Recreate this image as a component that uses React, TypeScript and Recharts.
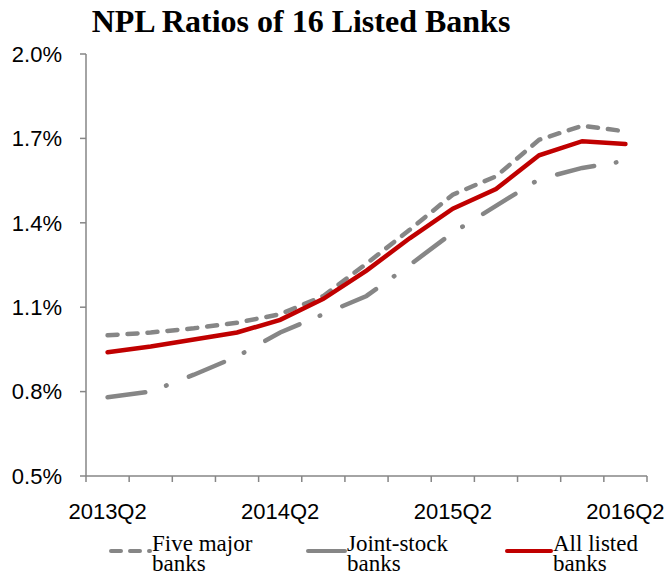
import { Legend, Line, LineChart, XAxis, YAxis } from 'recharts';

const quarters = [
  '2013Q2', '2013Q3', '2013Q4', '2014Q1', '2014Q2', '2014Q3', '2014Q4',
  '2015Q1', '2015Q2', '2015Q3', '2015Q4', '2016Q1', '2016Q2',
];

// NPL ratio, %
const fiveMajor = [1.0, 1.01, 1.025, 1.045, 1.075, 1.14, 1.255, 1.375, 1.5, 1.565, 1.695, 1.745, 1.725];
const jointStock = [0.78, 0.8, 0.86, 0.925, 1.01, 1.075, 1.14, 1.25, 1.365, 1.46, 1.555, 1.595, 1.62];
const allListed = [0.94, 0.96, 0.985, 1.01, 1.055, 1.13, 1.23, 1.345, 1.45, 1.52, 1.64, 1.69, 1.68];

const yTicks = [0.5, 0.8, 1.1, 1.4, 1.7, 2.0];
const labelEvery = 4;

const data = quarters.map((q, i) => ({
  idx: i,
  quarter: q,
  fiveMajor: fiveMajor[i],
  jointStock: jointStock[i],
  allListed: allListed[i],
}));

// tick marks sit on category boundaries, labels on category centres
const xTicks: number[] = [];
for (let i = 0; i <= quarters.length * 2; i++) xTicks.push(i / 2 - 0.5);

const GRAY = '#868686';
const RED = '#C00000';
const SANS = '"Liberation Sans", Arial, sans-serif';
const SERIF = '"Liberation Serif", "Times New Roman", serif';

function XTick(props: any) {
  const { x, y, payload } = props;
  const v = payload.value as number;
  const isBoundary = Math.abs(v - Math.round(v)) > 0.1;
  if (isBoundary) {
    return <line x1={x} x2={x} y1={y} y2={y + 6} stroke={GRAY} strokeWidth={1.5} />;
  }
  if (v % labelEvery !== 0) return null;
  return (
    <text x={x} y={y + 43} textAnchor="middle" fontFamily={SANS} fontSize={22} fill="#000">
      {quarters[v]}
    </text>
  );
}

const legendItems = [
  { label: ['Five major', 'banks'], color: GRAY, dash: '10 9', left: 111, width: 39 },
  { label: ['Joint-stock', 'banks'], color: GRAY, dash: undefined, left: 308, width: 37 },
  { label: ['All listed', 'banks'], color: RED, dash: undefined, left: 507, width: 44 },
];

function LegendContent() {
  return (
    <div style={{ position: 'relative', width: 669, height: 40 }}>
      {legendItems.map((item) => (
        <div key={item.label[0]} style={{ position: 'absolute', left: item.left, top: 0 }}>
          <svg width={item.width + 4} height={30} style={{ position: 'absolute', left: -2, top: 0 }}>
            <line
              x1={2}
              x2={item.width + 2}
              y1={17}
              y2={17}
              stroke={item.color}
              strokeWidth={4}
              strokeLinecap="round"
              strokeDasharray={item.dash}
            />
          </svg>
          <div
            style={{
              position: 'absolute',
              left: item.width + 2,
              top: 0,
              fontFamily: SERIF,
              fontSize: 23,
              lineHeight: '20px',
              color: '#000',
              whiteSpace: 'nowrap',
            }}
          >
            <div>{item.label[0]}</div>
            <div>{item.label[1]}</div>
          </div>
        </div>
      ))}
    </div>
  );
}

export default function App() {
  return (
    <div style={{ position: 'absolute', left: 0, top: 0, width: 669, height: 574, background: '#fff' }}>
      <div
        style={{
          position: 'absolute',
          left: 0,
          width: 602,
          top: 3,
          textAlign: 'center',
          fontFamily: SERIF,
          fontWeight: 'bold',
          fontSize: 32,
          lineHeight: '36px',
          color: '#000',
        }}
      >
        NPL Ratios of 16 Listed Banks
      </div>
      <LineChart
        width={669}
        height={574}
        data={data}
        margin={{ top: 54, right: 22, left: 0, bottom: 0 }}
      >
        <XAxis
          dataKey="idx"
          type="number"
          domain={[-0.5, 12.5]}
          ticks={xTicks}
          interval={0}
          tick={<XTick />}
          tickLine={false}
          tickSize={0}
          tickMargin={0}
          height={58}
          axisLine={{ stroke: GRAY, strokeWidth: 1.5 }}
        />
        <YAxis
          type="number"
          domain={[0.5, 2.0]}
          ticks={yTicks}
          interval={0}
          width={86}
          tickSize={6}
          tickMargin={18}
          tickFormatter={(v: number) => `${v.toFixed(1)}%`}
          tick={{ fontFamily: SANS, fontSize: 22, fill: '#000' }}
          tickLine={{ stroke: GRAY, strokeWidth: 1.5 }}
          axisLine={{ stroke: GRAY, strokeWidth: 1.5 }}
        />
        <Legend
          verticalAlign="bottom"
          content={<LegendContent />}
          wrapperStyle={{ position: 'absolute', left: 0, top: 534, width: 669, height: 40 }}
        />
        <Line
          dataKey="fiveMajor"
          type="linear"
          stroke={GRAY}
          strokeWidth={4.5}
          strokeDasharray="10 10"
          strokeLinecap="round"
          dot={false}
          isAnimationActive={false}
        />
        <Line
          dataKey="jointStock"
          type="linear"
          stroke={GRAY}
          strokeWidth={4.5}
          strokeDasharray="38 22 0.5 24"
          strokeLinecap="round"
          dot={false}
          isAnimationActive={false}
        />
        <Line
          dataKey="allListed"
          type="linear"
          stroke={RED}
          strokeWidth={4.5}
          strokeLinecap="round"
          dot={false}
          isAnimationActive={false}
        />
      </LineChart>
    </div>
  );
}
